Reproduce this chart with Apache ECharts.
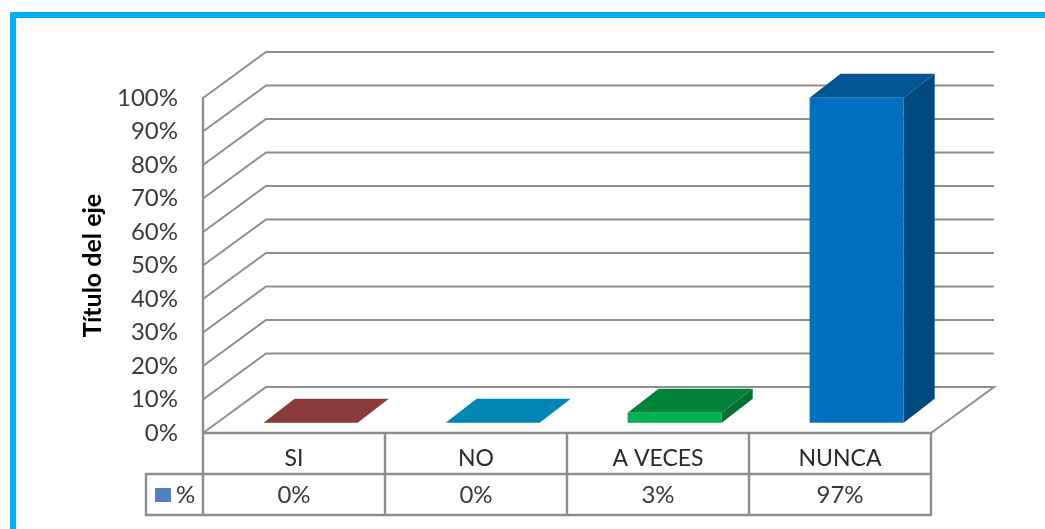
<!DOCTYPE html>
<html>
<head>
<meta charset="utf-8">
<style>html,body{margin:0;padding:0;background:#fff}#c{width:1045px;height:529px}</style>
<script src="https://cdn.jsdelivr.net/npm/echarts@6/dist/echarts.min.js"></script>
</head>
<body>
<div id="c"></div>
<script>
var categories = ['SI', 'NO', 'A VECES', 'NUNCA'];
var values = [0, 0, 3, 97];
var seriesName = '%';
var axisTitle = 'Título del eje';
var yTicks = [0, 10, 20, 30, 40, 50, 60, 70, 80, 90, 100];
var frontColors = ['#953735', '#0085B5', '#00B050', '#0070C0'];
var topColors = ['#8B3A3A', '#0085B5', '#00843A', '#005692'];
var sideColors = ['#6E2A28', '#006A91', '#006F30', '#004A80'];

var GREY = '#8e8e8e', TXT = '#3a3a3a', FONT = 'Lato';
var chart = echarts.init(document.getElementById('c'), null, {renderer: 'canvas'});

function wallItem(params, api) {
  var cs = params.coordSys;
  var y = api.coord([0, api.value(1)])[1];
  var pts = [[cs.x, y], [cs.x + 63, y - 46], [cs.x + cs.width + 63, y - 46]];
  if (api.value(1) === 0) pts.push([cs.x + cs.width, y]);
  return {type: 'polyline', shape: {points: pts},
    style: {fill: null, stroke: GREY, lineWidth: 2}, silent: true};
}

function barItem(params, api) {
  var i = api.value(0);
  var band = api.size([1, 0])[0];
  var top = api.coord([i, api.value(1)]);
  var base = api.coord([i, 0]);
  var lift = 10.3, w = band * 0.517, dx = 31, dy = 24;
  var x0 = top[0] - band / 2 + band * 0.333, x1 = x0 + w;
  var yb = base[1] - lift, yt = top[1] - lift;
  var kids = [
    {type: 'polygon', shape: {points: [[x1, yb], [x1 + dx, yb - dy], [x1 + dx, yt - dy], [x1, yt]]},
      style: {fill: sideColors[i]}},
    {type: 'polygon', shape: {points: [[x0, yt], [x0 + dx, yt - dy], [x1 + dx, yt - dy], [x1, yt]]},
      style: {fill: topColors[i]}}
  ];
  if (yb - yt > 0.5) {
    kids.push({type: 'rect', shape: {x: x0, y: yt, width: w, height: yb - yt}, style: {fill: frontColors[i]}});
  }
  return {type: 'group', children: kids};
}

var baseX = {
  type: 'category', position: 'bottom', silent: true,
  axisLine: {show: true, onZero: false, lineStyle: {color: GREY, width: 2.4}},
  axisTick: {show: false},
  axisLabel: {show: false}
};

chart.setOption({
  animation: false,
  backgroundColor: '#fff',
  textStyle: {fontFamily: FONT},
  grid: {left: 203, top: 98, width: 728, height: 335, containLabel: false},
  legend: {
    data: [seriesName], left: 150, top: 478, itemWidth: 16, itemHeight: 14, itemGap: 6,
    selectedMode: false, icon: 'rect',
    textStyle: {fontFamily: FONT, fontSize: 24, color: TXT}
  },
  xAxis: [
    Object.assign({}, baseX, {
      data: categories,
      axisTick: {show: true, length: 82, alignWithLabel: false, lineStyle: {color: GREY, width: 2.4}},
      axisLabel: {show: true, margin: 14, fontFamily: FONT, fontSize: 23, color: '#2a2a2a'}
    }),
    Object.assign({}, baseX, {
      data: values.map(function (v) { return v + '%'; }), offset: 41,
      axisLabel: {show: true, margin: 9, fontFamily: FONT, fontSize: 24, color: TXT}
    }),
    Object.assign({}, baseX, {data: categories, offset: 82})
  ],
  yAxis: {
    type: 'value', min: 0, max: 100, interval: 10,
    name: axisTitle, nameLocation: 'middle', nameGap: 98,
    nameTextStyle: {fontFamily: FONT, fontSize: 25, fontWeight: 'bold', color: '#000'},
    axisLine: {show: true, lineStyle: {color: GREY, width: 2.4}},
    axisTick: {show: false},
    splitLine: {show: false},
    axisLabel: {formatter: '{value}%', margin: 25, fontFamily: FONT, fontSize: 24, color: TXT}
  },
  graphic: [
    {type: 'rect', z: 1, shape: {x: 10, y: 12, width: 1035, height: 6, r: [2, 0, 0, 0]}, style: {fill: '#00B0F0'}},
    {type: 'rect', z: 1, shape: {x: 10, y: 12, width: 6, height: 517, r: [2, 0, 0, 0]}, style: {fill: '#00B0F0'}},
    {type: 'polyline', z: 1, shape: {points: [[203, 474], [146, 474], [146, 515], [203, 515]]},
      style: {fill: null, stroke: GREY, lineWidth: 2.4}}
  ],
  series: [
    {name: 'walls', type: 'custom', coordinateSystem: 'cartesian2d', xAxisIndex: 0, z: 1,
      data: yTicks.map(function (v) { return [0, v]; }), encode: {x: 0, y: 1}, renderItem: wallItem, silent: true},
    {name: seriesName, type: 'custom', coordinateSystem: 'cartesian2d', xAxisIndex: 0, z: 3,
      itemStyle: {color: '#4F81BD'},
      data: values.map(function (v, i) { return [i, v]; }), encode: {x: 0, y: 1}, renderItem: barItem, silent: true}
  ]
});
</script>
</body>
</html>
